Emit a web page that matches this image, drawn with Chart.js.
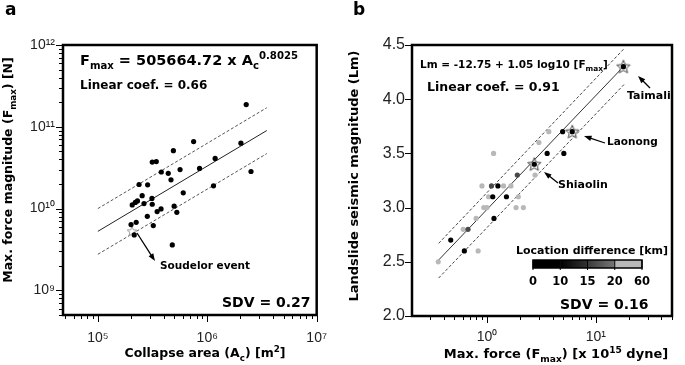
<!DOCTYPE html>
<html>
<head>
<meta charset="utf-8">
<script src="https://cdn.jsdelivr.net/npm/chart.js@4.4.0/dist/chart.umd.min.js"></script>
<style>
    body { margin: 0; background: #fff; width: 685px; height: 365px; overflow: hidden; position: relative; }
    canvas { position: absolute; top: 0; }
    #grafA { left: 0; }
    #grafB { left: 342px; }
</style>
</head>
<body>
<canvas id="grafA" width="342" height="365"></canvas>
<canvas id="grafB" width="343" height="365"></canvas>
<script>
// --- panel a: collapse area vs max force ---
const areaA = [2.27e6, 7.5e5, 2.03e6, 4.9e5, 1.18e6, 3.14e5, 3.42e5, 3.8e5, 4.4e5, 5.64e5, 8.5e5, 2.51e6, 4.66e5, 2.38e5, 2.85e5, 6.03e5, 1.14e6,
    2.54e5, 3.12e5, 2.06e5, 2.2e5, 2.3e5, 2.64e5, 3.14e5, 2.83e5, 3.48e5, 3.78e5, 4.98e5, 5.27e5, 3.21e5, 2.01e5, 2.24e5, 2.15e5, 4.79e5];
const forceA = [1.87e11, 6.6e10, 6.3e10, 5.1e10, 4.1e10, 3.7e10, 3.76e10, 2.8e10, 2.7e10, 3.0e10, 3.1e10, 2.84e10, 2.25e10, 1.97e10, 1.95e10, 1.56e10, 1.9e10,
    1.44e10, 1.33e10, 1.11e10, 1.19e10, 1.24e10, 1.15e10, 1.13e10, 8.05e9, 9.2e9, 9.9e9, 1.07e10, 9.0e9, 6.2e9, 6.37e9, 6.8e9, 4.76e9, 3.6e9];
const fitAreaA = [1e5, 3.5e6];
const fitForceA = [5.27e9, 9.0e10];
const upperForceA = [1.0e10, 1.71e11];
const lowerForceA = [2.76e9, 4.7e10];
const soudelorA = [2.05e5, 5.3e9];
const majorXA = [1e5, 1e6, 1e7];
const labelXA = ["10⁵", "10⁶", "10⁷"];
const majorYA = [1e9, 1e10, 1e11, 1e12];
const labelYA = ["10⁹", "10¹⁰", "10¹¹", "10¹²"];

// --- panel b: max force vs landslide magnitude, by location difference ---
const forceB0 = [0.465, 0.62, 1.16, 1.13, 1.51, 1.26, 3.57, 5.08, 4.95, 2.72, 6.07, 17.9];
const magB0 = [2.7, 2.6, 2.9, 3.1, 3.1, 3.2, 3.5, 3.5, 3.7, 3.4, 3.7, 4.3];
const forceB1 = [0.67, 1.10, 1.90];
const magB1 = [2.8, 3.2, 3.3];
const forceB2 = [0.357, 0.83, 0.605, 0.795, 0.935, 1.0, 1.85, 2.16, 1.035, 1.94, 0.90, 1.42, 1.66, 2.76, 1.15, 3.0, 3.70];
const magB2 = [2.5, 2.6, 2.8, 2.9, 3.0, 3.0, 3.0, 3.0, 3.1, 3.1, 3.2, 3.2, 3.2, 3.3, 3.5, 3.6, 3.7];
const starNamesB = ["Shiaolin", "Laonong", "Taimali"];
const starForceB = [2.72, 6.07, 17.9];
const starMagB = [3.4, 3.7, 4.3];
const fitForceB = [0.355, 17.9];
const fitMagB = [2.51, 4.30];
const upperForceB = [0.36, 18.3];
const upperMagB = [2.67, 4.47];
const lowerForceB = [0.36, 18.3];
const lowerMagB = [2.35, 4.14];
const majorXB = [1, 10];
const labelXB = ["10⁰", "10¹"];
const locTicksB = ["0", "10", "15", "20", "60"];

Chart.defaults.font.family = "'Liberation Sans', Arial, sans-serif";
Chart.defaults.color = "#222";
const TUCNE = "'DejaVu Sans', sans-serif";

function body(xs, ys) { return xs.map(function(x, i) { return { x: x, y: ys[i] }; }); }

function logTicks(lo, hi) {
    const out = [];
    for (let d = Math.floor(Math.log10(lo)); d <= Math.ceil(Math.log10(hi)); d++) {
        for (let k = 1; k <= 9; k++) { const v = k * Math.pow(10, d); if (v >= lo && v <= hi) out.push(v); }
    }
    return out;
}

function hvezda(color, size, lw) {
    const c = document.createElement("canvas"); c.width = size; c.height = size;
    const g = c.getContext("2d"); const r = size / 2 - 1, ri = r * 0.45;
    g.beginPath();
    for (let i = 0; i < 10; i++) {
        const a = -Math.PI / 2 + i * Math.PI / 5, rr = i % 2 ? ri : r;
        g.lineTo(size / 2 + rr * Math.cos(a), size / 2 + rr * Math.sin(a) + 0.5);
    }
    g.closePath(); g.fillStyle = "rgba(255,255,255,0.6)"; g.fill();
    g.strokeStyle = color; g.lineWidth = lw; g.stroke();
    return c;
}

// parts: [text, mode] 0 normal, 1 sub, 2 sup
function bohatyText(ctx, parts, x, y, size, align) {
    const small = size * 0.7;
    let w = 0;
    const widths = parts.map(function(p) {
        ctx.font = "bold " + (p[1] ? small : size) + "px " + TUCNE;
        const m = ctx.measureText(p[0]).width; w += m; return m;
    });
    let cx = align === "center" ? x - w / 2 : (align === "right" ? x - w : x);
    ctx.textAlign = "left";
    parts.forEach(function(p, i) {
        ctx.font = "bold " + (p[1] ? small : size) + "px " + TUCNE;
        const dy = p[1] === 1 ? size * 0.28 : (p[1] === 2 ? -size * 0.42 : 0);
        ctx.fillText(p[0], cx, y + dy);
        cx += widths[i];
    });
}

function sipka(ctx, x1, y1, x2, y2) {
    const a = Math.atan2(y2 - y1, x2 - x1);
    ctx.strokeStyle = "#000"; ctx.fillStyle = "#000"; ctx.lineWidth = 1.3;
    ctx.beginPath(); ctx.moveTo(x1, y1); ctx.lineTo(x2 - 5 * Math.cos(a), y2 - 5 * Math.sin(a)); ctx.stroke();
    ctx.beginPath(); ctx.moveTo(x2, y2);
    ctx.lineTo(x2 - 8 * Math.cos(a - 0.35), y2 - 8 * Math.sin(a - 0.35));
    ctx.lineTo(x2 - 8 * Math.cos(a + 0.35), y2 - 8 * Math.sin(a + 0.35));
    ctx.closePath(); ctx.fill();
}

function carky(ctx, scale, majors, leva) {
    ctx.strokeStyle = "#000"; ctx.lineWidth = 1;
    scale.ticks.forEach(function(t) {
        const p = Math.round(scale.getPixelForValue(t.value)) + 0.5;
        const len = majors.indexOf(t.value) >= 0 ? 6 : 3;
        ctx.beginPath();
        if (leva) { ctx.moveTo(scale.right - 1, p); ctx.lineTo(scale.right - 1 - len, p); }
        else { ctx.moveTo(p, scale.top + 1); ctx.lineTo(p, scale.top + 1 + len); }
        ctx.stroke();
    });
}

function ramecek(ctx, ca) {
    ctx.strokeStyle = "#000"; ctx.lineWidth = 2.5;
    ctx.strokeRect(ca.left, ca.top, ca.right - ca.left, ca.bottom - ca.top);
}

function carovaSada(xs, ys, dash, color) {
    return { data: body(xs, ys), showLine: true, pointRadius: 0, borderColor: color, borderWidth: 1, borderDash: dash, order: 3 };
}

const ticksXA = logTicks(5e4, 1e7);
const ticksYA = logTicks(5e8, 1e12);
const ticksXB = logTicks(0.3, 50);

const pluginA = {
    id: "panelA",
    afterDraw: function(chart) {
        const ctx = chart.ctx, ca = chart.chartArea;
        ctx.save();
        ramecek(ctx, ca);
        carky(ctx, chart.scales.x, majorXA, false);
        carky(ctx, chart.scales.y, majorYA, true);
        ctx.fillStyle = "#000"; ctx.textBaseline = "alphabetic";
        bohatyText(ctx, [["a", 0]], 5, 15, 17, "left");
        bohatyText(ctx, [["F", 0], ["max", 1], [" = 505664.72 x A", 0], ["c", 1], ["0.8025", 2]], 80, 65, 14.5, "left");
        bohatyText(ctx, [["Linear coef. = 0.66", 0]], 80, 89, 12, "left");
        bohatyText(ctx, [["SDV = 0.27", 0]], 222, 307, 14, "left");
        bohatyText(ctx, [["Soudelor event", 0]], 160, 269, 10.5, "left");
        sipka(ctx, 137, 233, 155, 261);
        bohatyText(ctx, [["Collapse area (A", 0], ["c", 1], [") [m", 0], ["2", 2], ["]", 0]], 205, 357, 12.5, "center");
        ctx.translate(12, 170); ctx.rotate(-Math.PI / 2);
        bohatyText(ctx, [["Max. force magnitude (F", 0], ["max", 1], [") [N]", 0]], 0, 0, 12.5, "center");
        ctx.restore();
    }
};

const pluginB = {
    id: "panelB",
    afterDraw: function(chart) {
        const ctx = chart.ctx, ca = chart.chartArea;
        ctx.save();
        ramecek(ctx, ca);
        carky(ctx, chart.scales.x, majorXB, false);
        carky(ctx, chart.scales.y, chart.scales.y.ticks.map(function(t) { return t.value; }), true);
        ctx.fillStyle = "#000"; ctx.textBaseline = "alphabetic";
        bohatyText(ctx, [["b", 0]], 11, 15, 17, "left");
        bohatyText(ctx, [["Lm = -12.75 + 1.05 log10 [F", 0], ["max", 1], ["]", 0]], 78, 68, 10.5, "left");
        bohatyText(ctx, [["Linear coef. = 0.91", 0]], 85, 91, 12.5, "left");
        bohatyText(ctx, [["Taimali", 0]], 285, 99, 11, "left");
        bohatyText(ctx, [["Laonong", 0]], 265, 145, 10.5, "left");
        bohatyText(ctx, [["Shiaolin", 0]], 216, 188, 11, "left");
        sipka(ctx, 308, 88, 296, 76);
        sipka(ctx, 263, 143, 242, 136);
        sipka(ctx, 216, 183, 202, 172);
        bohatyText(ctx, [["Location difference [km]", 0]], 250, 254, 11, "center");
        // colour bar, four equal blocks
        const x0 = 191, x1 = 300, y0 = 260, h = 8, sw = (x1 - x0) / 4;
        const barvy = [["#000", "#000"], ["#000", "#333"], ["#3a3a3a", "#777"], ["#b8b8b8", "#b8b8b8"]];
        barvy.forEach(function(b, i) {
            const gr = ctx.createLinearGradient(x0 + i * sw, 0, x0 + (i + 1) * sw, 0);
            gr.addColorStop(0, b[0]); gr.addColorStop(1, b[1]);
            ctx.fillStyle = gr; ctx.fillRect(x0 + i * sw, y0, sw, h);
        });
        ctx.strokeStyle = "#000"; ctx.lineWidth = 1.5; ctx.strokeRect(x0, y0, x1 - x0, h);
        ctx.lineWidth = 1;
        ctx.fillStyle = "#000";
        locTicksB.forEach(function(t, i) {
            const px = x0 + i * sw;
            ctx.beginPath(); ctx.moveTo(px, y0); ctx.lineTo(px, y0 + h + 2); ctx.stroke();
            bohatyText(ctx, [[t, 0]], px, 285, 11.5, "center");
        });
        bohatyText(ctx, [["SDV = 0.16", 0]], 218, 309, 14, "left");
        bohatyText(ctx, [["Max. force (F", 0], ["max", 1], [") [x 10", 0], ["15", 2], [" dyne]", 0]], 214, 358, 13, "center");
        ctx.translate(16, 176); ctx.rotate(-Math.PI / 2);
        bohatyText(ctx, [["Landslide seismic magnitude (Lm)", 0]], 0, 0, 13, "center");
        ctx.restore();
    }
};

new Chart(document.getElementById("grafA"), {
    type: "scatter",
    data: {
        datasets: [
            { data: body(areaA, forceA), pointRadius: 2.6, backgroundColor: "#000", borderWidth: 0, order: 0 },
            { data: [{ x: soudelorA[0], y: soudelorA[1] }], pointStyle: hvezda("#999", 12, 1), order: 1 },
            carovaSada(fitAreaA, fitForceA, [], "#222"),
            carovaSada(fitAreaA, upperForceA, [3, 2], "#555"),
            carovaSada(fitAreaA, lowerForceA, [3, 2], "#555")
        ]
    },
    options: {
        responsive: false, animation: false,
        layout: { padding: { top: 45, right: 9, left: 0, bottom: 0 } },
        plugins: { legend: { display: false }, tooltip: { enabled: false } },
        scales: {
            x: {
                type: "logarithmic", min: 4.8e4, max: 1e7,
                afterFit: function(s) { s.height = 50; },
                afterBuildTicks: function(s) { s.ticks = ticksXA.map(function(v) { return { value: v }; }); },
                grid: { display: false, drawTicks: false }, border: { display: false },
                ticks: { padding: 15, autoSkip: false, maxRotation: 0, font: { size: 14 }, color: "#222",
                    callback: function(v) { const i = majorXA.indexOf(v); return i >= 0 ? labelXA[i] : ""; } }
            },
            y: {
                type: "logarithmic", min: 5e8, max: 1e12,
                afterFit: function(s) { s.width = 63; },
                afterBuildTicks: function(s) { s.ticks = ticksYA.map(function(v) { return { value: v }; }); },
                grid: { display: false, drawTicks: false }, border: { display: false },
                ticks: { padding: 8, autoSkip: false, font: { size: 14 }, color: "#222",
                    callback: function(v) { const i = majorYA.indexOf(v); return i >= 0 ? labelYA[i] : ""; } }
            }
        }
    },
    plugins: [pluginA]
});

const hvezdaB = hvezda("#444", 16, 1);
new Chart(document.getElementById("grafB"), {
    type: "scatter",
    data: {
        datasets: [
            { data: body(forceB0, magB0), pointRadius: 2.6, backgroundColor: "#000", borderWidth: 0, order: 0 },
            { data: body(forceB1, magB1), pointRadius: 2.6, backgroundColor: "#484848", borderWidth: 0, order: 0 },
            { data: body(forceB2, magB2), pointRadius: 2.6, backgroundColor: "#b8b8b8", borderWidth: 0, order: 0 },
            { data: body(starForceB, starMagB), pointStyle: hvezdaB, order: 1 },
            carovaSada(fitForceB, fitMagB, [], "#333"),
            carovaSada(upperForceB, upperMagB, [3, 2], "#444"),
            carovaSada(lowerForceB, lowerMagB, [3, 2], "#444")
        ]
    },
    options: {
        responsive: false, animation: false,
        layout: { padding: { top: 45, right: 3, left: 0, bottom: 0 } },
        plugins: { legend: { display: false }, tooltip: { enabled: false } },
        scales: {
            x: {
                type: "logarithmic", min: 0.205, max: 50,
                afterFit: function(s) { s.height = 49; },
                afterBuildTicks: function(s) { s.ticks = ticksXB.map(function(v) { return { value: v }; }); },
                grid: { display: false, drawTicks: false }, border: { display: false },
                ticks: { padding: 13, autoSkip: false, maxRotation: 0, font: { size: 14 }, color: "#222",
                    callback: function(v) { const i = majorXB.indexOf(v); return i >= 0 ? labelXB[i] : ""; } }
            },
            y: {
                type: "linear", min: 2.0, max: 4.5,
                afterFit: function(s) { s.width = 70; },
                grid: { display: false, drawTicks: false }, border: { display: false },
                ticks: { stepSize: 0.5, padding: 7, font: { size: 16 }, color: "#222",
                    callback: function(v) { return v.toFixed(1); } }
            }
        }
    },
    plugins: [pluginB]
});
</script>
</body>
</html>
